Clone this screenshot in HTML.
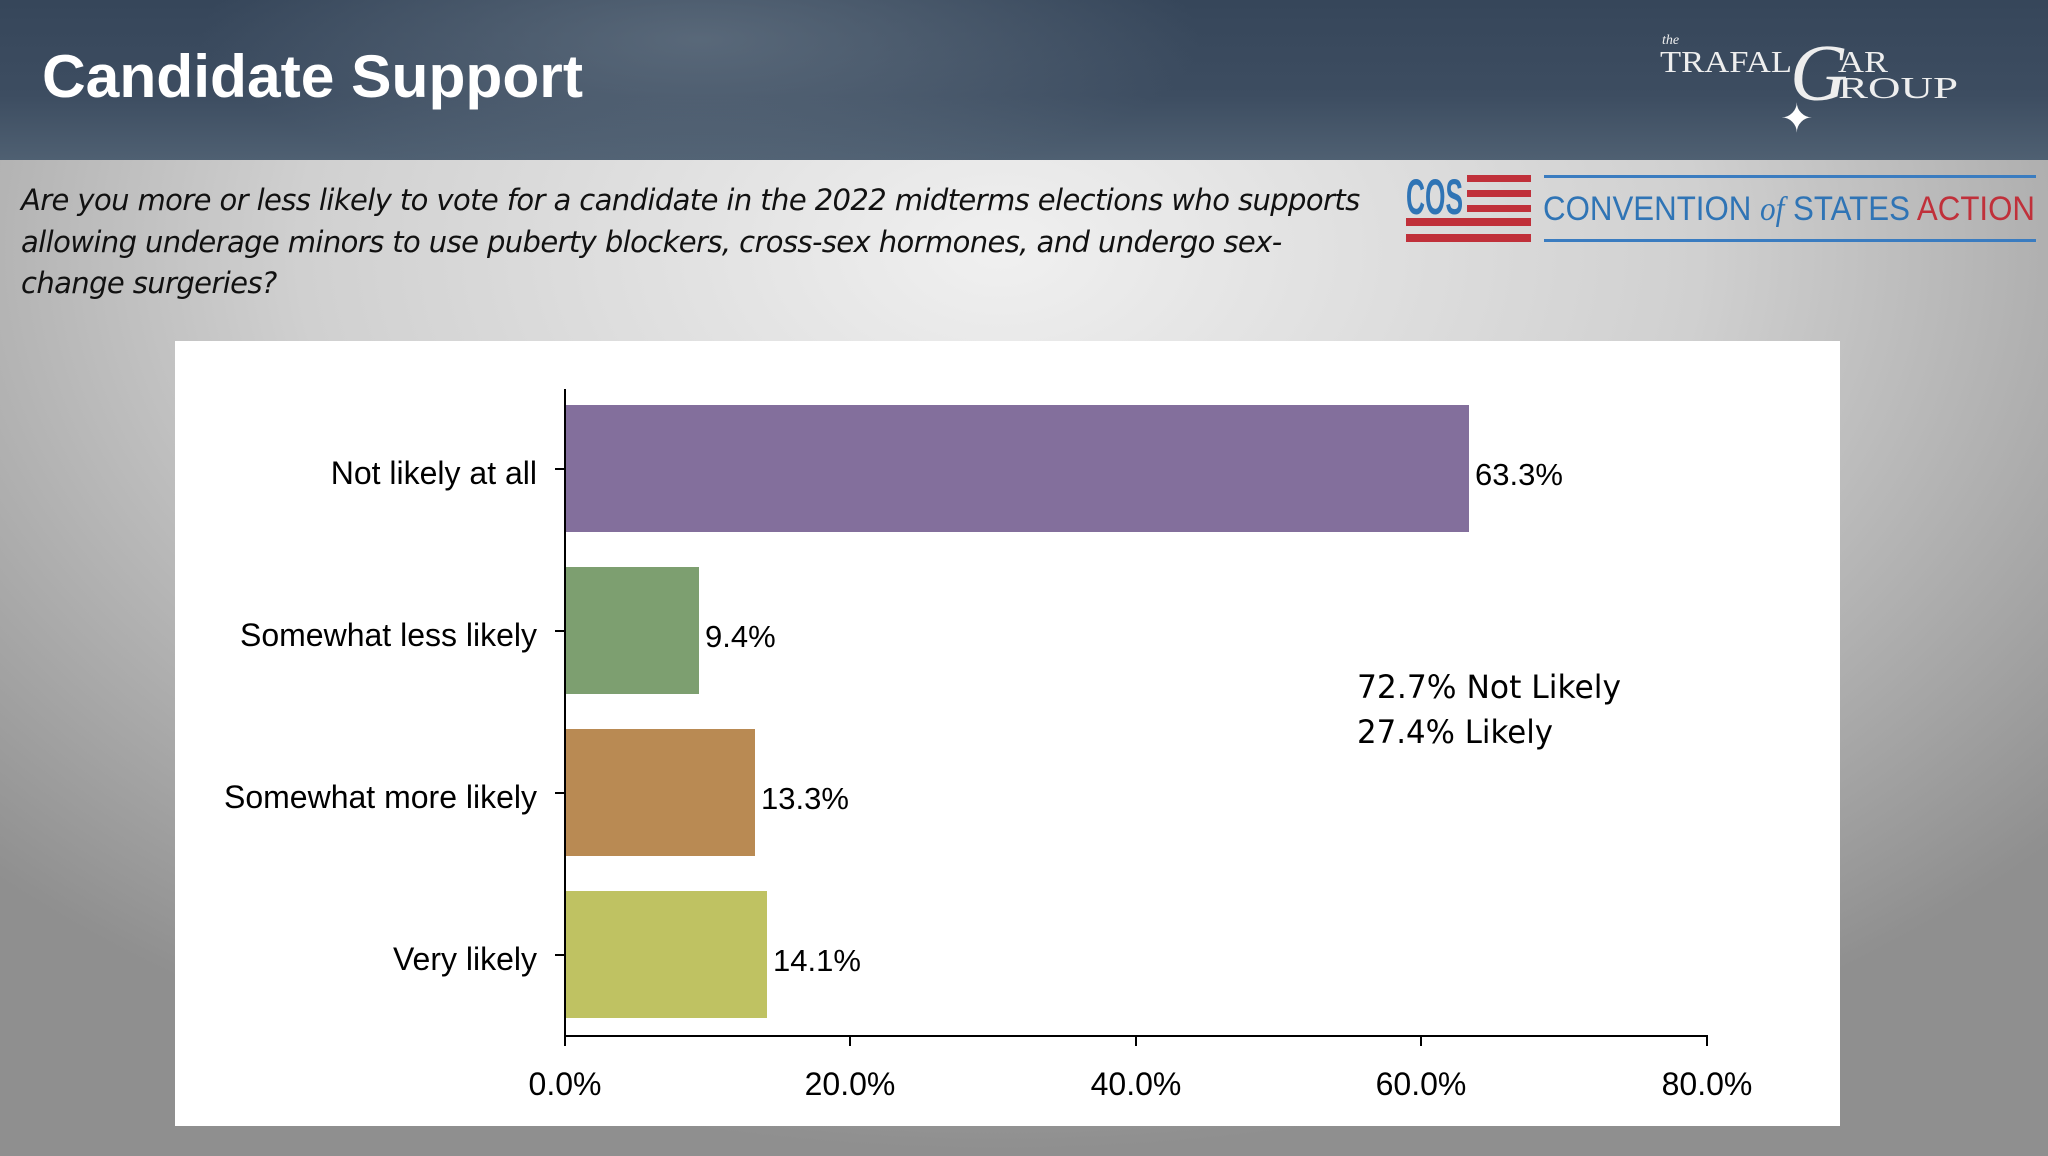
<!DOCTYPE html>
<html><head><meta charset="utf-8"><style>
body{margin:0;width:2048px;height:1156px;overflow:hidden;position:relative;font-family:"Liberation Sans",sans-serif;
background:radial-gradient(ellipse 1400px 900px at 1000px 250px,#f0f0f0 0%,#d0d0d0 50%,#8f8f8f 100%);}
.hdr{position:absolute;left:0;top:0;width:2048px;height:160px;background:radial-gradient(ellipse 500px 150px at 700px 40px,rgba(110,125,140,0.6),rgba(0,0,0,0)),linear-gradient(180deg,#36465a,#3d4d61 60%,#4f6072);}
.q{position:absolute;left:21px;top:180px;width:1350px;font-style:italic;font-size:29px;line-height:41.5px;color:#111;font-family:"DejaVu Sans","Liberation Sans",sans-serif;letter-spacing:-0.6px}
.box{position:absolute;left:175px;top:341px;width:1665px;height:785px;background:#fff}
</style></head><body>
<div class="hdr"></div>
<svg style="position:absolute;left:0;top:0" width="2048" height="160">
<text x="42" y="97" font-family="Liberation Sans" font-weight="bold" font-size="60" fill="#fff" textLength="541" lengthAdjust="spacingAndGlyphs">Candidate Support</text>
<text x="1662" y="44" font-family="Liberation Serif" font-style="italic" font-size="14" fill="#eee">the</text>
<text x="1660" y="72" font-family="Liberation Serif" font-size="31" fill="#eee" textLength="132" lengthAdjust="spacingAndGlyphs">TRAFAL</text>
<text x="1790" y="100" font-family="Liberation Serif" font-style="italic" font-size="80" fill="#eee">G</text>
<text x="1838" y="72" font-family="Liberation Serif" font-size="31" fill="#eee" textLength="50" lengthAdjust="spacingAndGlyphs">AR</text>
<text x="1838" y="98" font-family="Liberation Serif" font-size="31" fill="#eee" textLength="120" lengthAdjust="spacingAndGlyphs">ROUP</text>
<text x="1780" y="132" font-size="40" fill="#fff">✦</text>
</svg>
<div class="q">Are you more or less likely to vote for a candidate in the 2022 midterms elections who supports allowing underage minors to use puberty blockers, cross-sex hormones, and undergo sex-change surgeries?</div>
<svg style="position:absolute;left:1400px;top:170px" width="645" height="80">
<rect x="67" y="5" width="64" height="7" fill="#c0303a"/><rect x="67" y="20" width="64" height="7" fill="#c0303a"/><rect x="67" y="35" width="64" height="7" fill="#c0303a"/>
<rect x="6" y="48" width="125" height="8" fill="#c0303a"/><rect x="6" y="64" width="125" height="8" fill="#c0303a"/>
<text x="6" y="44" font-family="Liberation Sans" font-weight="bold" font-size="50" fill="#2f74b5" textLength="57" lengthAdjust="spacingAndGlyphs">COS</text>
<rect x="144" y="5" width="492" height="3" fill="#3a7cc0"/><rect x="144" y="69" width="492" height="3" fill="#3a7cc0"/>
<text x="143" y="50" font-family="Liberation Sans" font-size="34" fill="#2f74b5" textLength="492" lengthAdjust="spacingAndGlyphs">CONVENTION <tspan font-family="Liberation Serif" font-style="italic">of</tspan> STATES <tspan fill="#c0303a">ACTION</tspan></text>
</svg>
<div class="box"></div>
<svg style="position:absolute;left:0;top:0" width="2048" height="1156">
<line x1="565" y1="389" x2="565" y2="1037" stroke="#000" stroke-width="2"/>
<line x1="564" y1="1036" x2="1708" y2="1036" stroke="#000" stroke-width="2"/>
<g stroke="#000" stroke-width="2">
<line x1="565" y1="1036" x2="565" y2="1046"/><line x1="850" y1="1036" x2="850" y2="1046"/><line x1="1136" y1="1036" x2="1136" y2="1046"/><line x1="1421" y1="1036" x2="1421" y2="1046"/><line x1="1707" y1="1036" x2="1707" y2="1046"/>
<line x1="555" y1="469" x2="565" y2="469"/><line x1="555" y1="631" x2="565" y2="631"/><line x1="555" y1="793" x2="565" y2="793"/><line x1="555" y1="955" x2="565" y2="955"/>
</g>
<rect x="566" y="405" width="903" height="127" fill="#836f9c"/>
<rect x="566" y="567" width="133" height="127" fill="#7d9f70"/>
<rect x="566" y="729" width="189" height="127" fill="#b98a53"/>
<rect x="566" y="891" width="201" height="127" fill="#bfc262"/>
<g font-family="Liberation Sans" font-size="32" fill="#000">
<text x="537" y="484" text-anchor="end">Not likely at all</text>
<text x="537" y="646" text-anchor="end">Somewhat less likely</text>
<text x="537" y="808" text-anchor="end">Somewhat more likely</text>
<text x="537" y="970" text-anchor="end">Very likely</text>
<g font-size="31">
<text x="1475" y="485">63.3%</text>
<text x="705" y="647">9.4%</text>
<text x="761" y="809">13.3%</text>
<text x="773" y="971">14.1%</text></g>
<g text-anchor="middle"><text x="565" y="1095">0.0%</text><text x="850" y="1095">20.0%</text><text x="1136" y="1095">40.0%</text><text x="1421" y="1095">60.0%</text><text x="1707" y="1095">80.0%</text></g>
</g>
<g font-family="DejaVu Sans" font-size="32" fill="#000"><text x="1357" y="698" textLength="264" lengthAdjust="spacingAndGlyphs">72.7% Not Likely</text><text x="1357" y="743" textLength="196" lengthAdjust="spacingAndGlyphs">27.4% Likely</text></g>
</svg>
</body></html>
